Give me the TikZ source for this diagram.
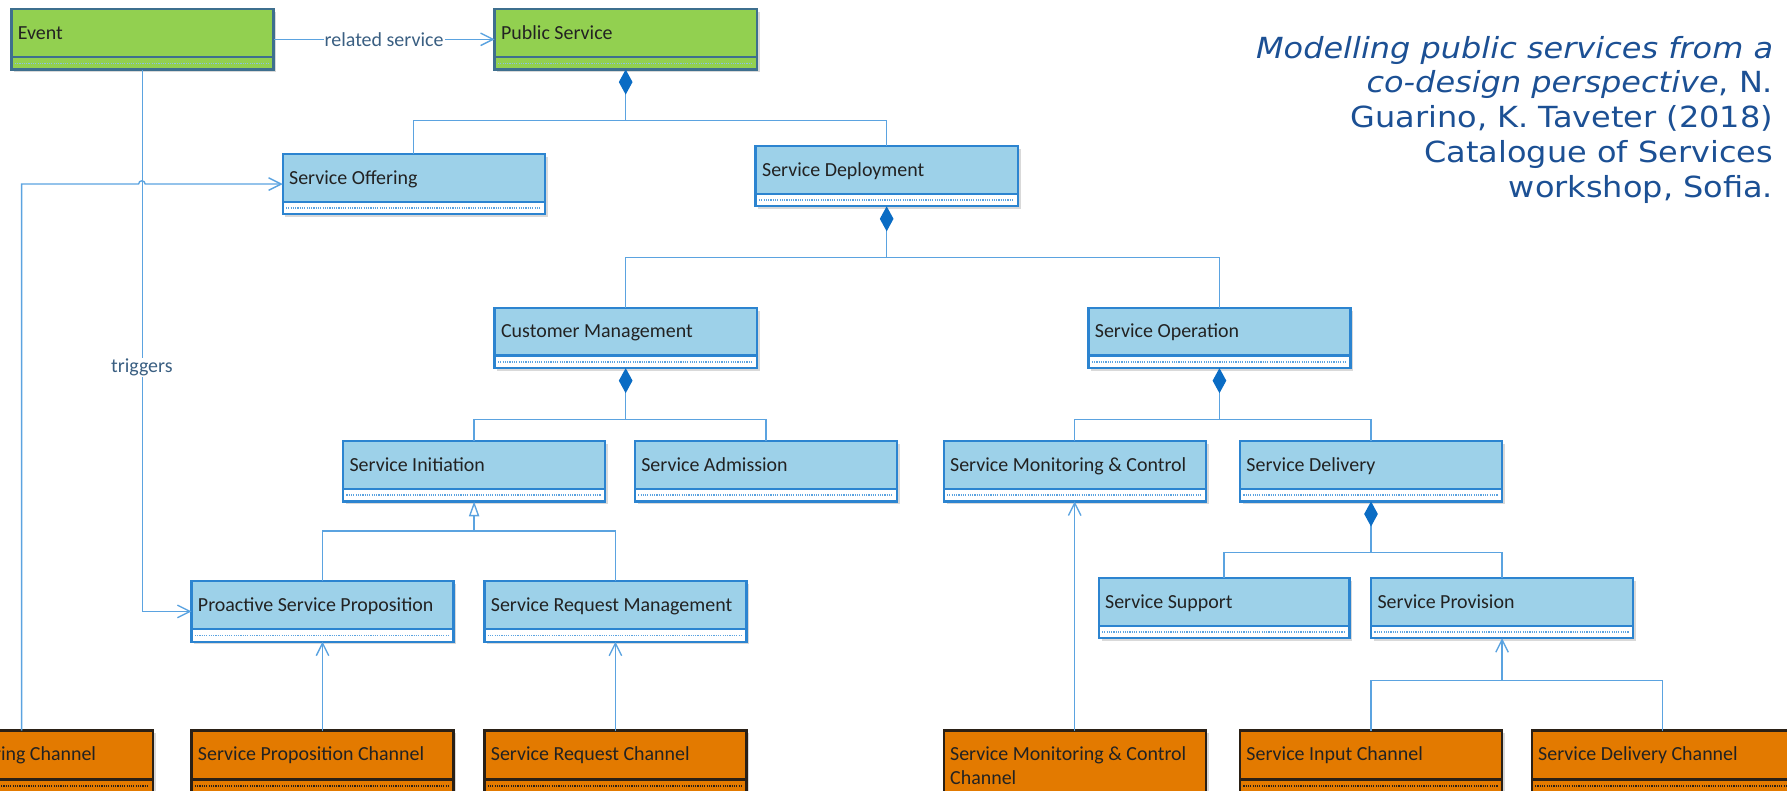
\documentclass[tikz,border=0pt]{standalone}
\usepackage{fontspec}
\setmainfont{Carlito}
\newfontfamily\citefont[FakeStretch=1.1]{DejaVu Sans}
\usetikzlibrary{arrows.meta,calc}
\definecolor{conn}{HTML}{5BA3E0}
\definecolor{diam}{HTML}{0A6CC4}
\definecolor{bfill}{HTML}{9DD1E9}
\definecolor{bline}{HTML}{2C84D0}
\definecolor{gfill}{HTML}{92D050}
\definecolor{gline}{HTML}{3E6F8E}
\definecolor{ofill}{HTML}{E37A00}
\definecolor{oline}{HTML}{2A2016}
\definecolor{labc}{HTML}{3A5F82}
\definecolor{citec}{HTML}{1C5094}
\definecolor{boxtext}{HTML}{222222}
\tikzset{
  connline/.style={draw=conn, line width=1.2pt},
  openarr/.style={-{Straight Barb[length=11pt,width=11pt,line width=1.2pt]}},
  comp/.style={{Diamond[length=22pt,width=12pt,fill=diam,color=diam]}-},
  gen/.style={-{Triangle[length=13pt,width=9pt,fill=white,line width=1.2pt]}},
  lab/.style={font=\fontsize{17.5}{20}\selectfont, text=labc, fill=white, inner sep=1pt},
  bbox/.style={fill=bfill, inner sep=0pt, outer sep=0pt},
  gbox/.style={fill=gfill, inner sep=0pt, outer sep=0pt},
  obox/.style={fill=ofill, inner sep=0pt, outer sep=0pt},
  bstrip/.style={fill=white},
  gstrip/.style={fill=gfill},
  ostrip/.style={fill=ofill},
  bsep/.style={draw=bline, line width=2pt},
  gsep/.style={draw=gline, line width=2pt},
  osep/.style={draw=oline, line width=2pt},
  bdots/.style={draw=conn, line width=1.3pt, dash pattern=on 1pt off 1pt},
  gdots/.style={draw=conn!70!white, line width=1.3pt, dash pattern=on 1pt off 1pt},
  odots/.style={draw=oline, line width=1.3pt, dash pattern=on 1pt off 1pt},
  bborder/.style={draw=bline, line width=2pt},
  gborder/.style={draw=gline, line width=2pt},
  oborder/.style={draw=oline, line width=2pt},
  btext/.style={font=\fontsize{17.5}{21}\selectfont, text=boxtext, inner sep=0pt},
  gtext/.style={btext},
  otext/.style={btext},
}
\newcommand\umlbox[7]{%
  \fill[black,opacity=0.15] (#3+2.5,#4+2.5) rectangle ++(#5,#6);
  \node[#1box, anchor=north west, minimum width=#5pt, minimum height=#6pt] (#2) at (#3,#4) {};
  \fill[#1strip] ($(#2.south west)+(0,-11)$) rectangle (#2.south east);
  \draw[#1sep] ($(#2.south west)+(0,-11)$) -- ($(#2.south east)+(0,-11)$);
  \draw[#1dots] ($(#2.south west)+(3,-5.5)$) -- ($(#2.south east)+(-3,-5.5)$);
  \draw[#1border] (#2.south west) rectangle (#2.north east);
  \node[#1text, anchor=base west] (#2-t) at ($(#2.north west)+(5.5,26.5)$) {#7};
}
\begin{document}
\begin{tikzpicture}[x=1pt, y=-1pt]
\useasboundingbox (0,0) rectangle (1568,694);
\clip (0,0) rectangle (1568,694);
% classes
\umlbox{g}{event}{10}{8}{230}{53}{Event}
\umlbox{g}{pubs}{434}{8}{230}{53}{Public Service}
\umlbox{b}{off}{248}{135}{230}{53}{Service Offering}
\umlbox{b}{dep}{663}{128}{230}{53}{Service Deployment}
\umlbox{b}{cm}{434}{270}{230}{53}{Customer Management}
\umlbox{b}{so}{955}{270}{230}{53}{Service Operation}
\umlbox{b}{si}{301}{387}{230}{53}{Service Initiation}
\umlbox{b}{sa}{557}{387}{230}{53}{Service Admission}
\umlbox{b}{smc}{828}{387}{230}{53}{Service Monitoring \& Control}
\umlbox{b}{sd}{1088}{387}{230}{53}{Service Delivery}
\umlbox{b}{ss}{964}{507}{220}{53}{Service Support}
\umlbox{b}{sp}{1203}{507}{230}{53}{Service Provision}
\umlbox{b}{psp}{168}{510}{230}{53}{Proactive Service Proposition}
\umlbox{b}{srm}{425}{510}{230}{53}{Service Request Management}
\umlbox{o}{oc}{-96}{641}{230}{54}{Service Offering Channel}
\umlbox{o}{psc}{168}{641}{230}{54}{Service Proposition Channel}
\umlbox{o}{src}{425}{641}{230}{54}{Service Request Channel}
\umlbox{o}{smcc}{828}{641}{230}{80}{Service Monitoring \& Control}
\node[otext, anchor=base west] (smcc-t2) at ($(smcc.north west)+(5.5,47.5)$) {Channel};
\umlbox{o}{sic}{1088}{641}{230}{54}{Service Input Channel}
\umlbox{o}{sdc}{1344}{641}{230}{54}{Service Delivery Channel}
% junction points
\coordinate (j1) at (549,106);
\coordinate (j2) at (778,226);
\coordinate (j3) at (549,368);
\coordinate (j4) at (1070,368);
\coordinate (j5) at (1203,485);
\coordinate (j6) at (416,466);
\coordinate (j7) at (1318,597);
% composition
\draw[connline, comp] (pubs.south) -- (j1);
\draw[connline] (off.north) |- (j1) -| (dep.north);
\draw[connline, comp] (dep.south) -- (j2);
\draw[connline] (cm.north) |- (j2) -| (so.north);
\draw[connline, comp] (cm.south) -- (j3);
\draw[connline] (si.north) |- (j3) -| (sa.north);
\draw[connline, comp] (so.south) -- (j4);
\draw[connline] (smc.north) |- (j4) -| (sd.north);
\draw[connline, comp] (sd.south) -- (j5);
\draw[connline] (ss.north) |- (j5) -| (sp.north);
% generalization
\draw[connline] (psp.north) |- (j6) -| (srm.north);
\draw[connline, gen] (j6) -- (si.south);
% channels
\draw[connline] (sic.north) |- (j7) -| (sdc.north);
\draw[connline, openarr] (j7) -- (sp.south);
\draw[connline, openarr] (psc.north) -- (psp.south);
\draw[connline, openarr] (src.north) -- (srm.south);
\draw[connline, openarr] (smcc.north) -- (smc.south);
% event associations
\draw[connline, openarr] (event.east) -- (pubs.west) node[midway, lab] (rel) {related service};
\draw[connline, openarr] (event.south) |- (psp.west);
\node[lab] (trig) at (124.5,322.5) {triggers};
\coordinate (hopL) at (121.6,161.5);
\coordinate (hopR) at (127.4,161.5);
\draw[connline, openarr] (oc.north) |- (hopL) .. controls ($(hopL)+(0,-3.8)$) and ($(hopR)+(0,-3.8)$) .. (hopR) -- (off.west);
% citation
\node[anchor=north east, align=right, inner sep=0pt, text=citec,
      font=\citefont\fontsize{25.5}{30.5}\selectfont] (cite) at (1556,31.5)
  {\textit{Modelling public services from a}\\
   \textit{co-design perspective}, N.\\
   Guarino, K. Taveter (2018)\\
   Catalogue of Services\\
   workshop, Sofia.};
\end{tikzpicture}
\end{document}
